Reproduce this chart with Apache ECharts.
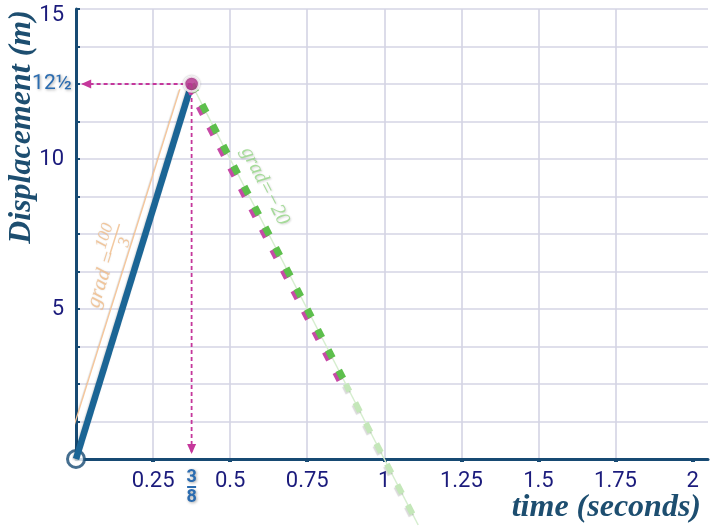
<!DOCTYPE html>
<html><head><meta charset="utf-8">
<script src="https://cdn.jsdelivr.net/npm/echarts@6/dist/echarts.min.js"></script>
<style>html,body{margin:0;padding:0;background:#fff}#c{width:720px;height:526px}</style>
</head><body><div id="c"></div>
<script>
// ---- data ----
const xLabelValues = [0.25, 0.375, 0.5, 0.75, 1, 1.25, 1.5, 1.75, 2];
const xTickValues = [0.25, 0.5, 0.75, 1, 1.25, 1.5, 1.75, 2];
const yLabelValues = [5, 10, 12.5, 15];
const origin = [[0, 0]];
const peak = [[0.375, 12.5]];
const riseLine = [[0, 0], [0.375, 12.5]];
const fallBold = [[0.375, 12.5], [0.875, 2.5]];
const fallFaint = [[0.875, 2.5], [1.11, -2.2]];
const fallFull = [[0.375, 12.5], [1.11, -2.2]];
const gradGuide = [[-0.026, 0.47], [0.337, 12.33]];
const hArrow = [[0.375, 12.5], [0.02, 12.5]];
const vArrow = [[0.375, 12.5], [0.375, 0.2]];
const riseLabelAt = [[0.1, 6.5]];
const fallLabelAt = [[0.613, 9.1]];

const navy = '#174a73';
const labelNavy = '#1b1b7c';
const magenta = '#c5379b';
const shadowTxt = {textShadowColor: 'rgba(0,0,0,0.35)', textShadowBlur: 3, textShadowOffsetX: 1, textShadowOffsetY: 1};
const orangeTxt = '#f0bb88';

const chart = echarts.init(document.getElementById('c'), null, {renderer: 'canvas'});
const noClip = {clip: false, silent: true, animation: false};

chart.setOption({
  animation: false,
  backgroundColor: '#fff',
  grid: {left: 76, right: 12, top: 9, bottom: 67, containLabel: false},
  xAxis: {
    type: 'value', min: 0, max: 2.05, interval: 0.125,
    axisLine: {show: true, onZero: false, lineStyle: {color: navy, width: 3}},
    axisTick: {show: true, customValues: xTickValues, length: 3, inside: false, lineStyle: {color: navy, width: 4}},
    axisLabel: {
      show: true, customValues: xLabelValues, margin: 11,
      color: labelNavy, fontFamily: 'Roboto', fontSize: 22,
      formatter: function (v) {
        if (Math.abs(v - 0.375) < 1e-9) return '{n|3}\n{bar|}\n{d|8}';
        return String(v);
      },
      rich: {
        n: Object.assign({fontFamily: 'Roboto', fontSize: 18, fontWeight: 'bold', color: '#2b6cb0', lineHeight: 15, align: 'center'}, shadowTxt),
        bar: {width: 9, height: 2, backgroundColor: '#2b6cb0', lineHeight: 4, align: 'center'},
        d: Object.assign({fontFamily: 'Roboto', fontSize: 18, fontWeight: 'bold', color: '#2b6cb0', lineHeight: 17, align: 'center'}, shadowTxt)
      }
    },
    splitLine: {show: true, showMaxLine: false, lineStyle: {color: '#d4d4e4', width: 1.6}}
  },
  yAxis: {
    type: 'value', min: 0, max: 15, interval: 1.25,
    axisLine: {show: true, onZero: false, lineStyle: {color: navy, width: 3}},
    axisTick: {show: true, length: 4, inside: true, lineStyle: {color: navy, width: 2}},
    axisLabel: {
      show: true, customValues: yLabelValues, margin: 4,
      color: labelNavy, fontFamily: 'Roboto', fontSize: 22,
      formatter: function (v) {
        if (Math.abs(v - 12.5) < 1e-9) return '{b|12½}';
        if (v === 15) return '{t|15}';
        return '{v|' + v + '}';
      },
      rich: {
        b: Object.assign({fontFamily: 'Roboto', fontSize: 21, color: '#2b6cb0'}, shadowTxt),
        t: {fontFamily: 'Roboto', fontSize: 22, color: labelNavy, padding: [12, 8, 0, 0]},
        v: {fontFamily: 'Roboto', fontSize: 22, color: labelNavy, padding: [0, 8, 0, 0]}
      }
    },
    splitLine: {show: true, lineStyle: {color: '#d4d4e4', width: 1.6}}
  },
  graphic: [
    {type: 'text', x: 22, y: 127, rotation: Math.PI / 2, z: 1,
     style: {text: 'Displacement (m)', font: 'italic bold 32px "Liberation Serif"', fill: '#1d4e70',
             textAlign: 'center', textVerticalAlign: 'middle',
             shadowColor: 'rgba(0,0,0,0.35)', shadowBlur: 3, shadowOffsetX: 2, shadowOffsetY: 2}},
    {type: 'text', x: 701, y: 508, z: 10,
     style: {text: 'time (seconds)', font: 'italic bold 32px "Liberation Serif"', fill: '#1d4e70',
             textAlign: 'right', textVerticalAlign: 'middle',
             shadowColor: 'rgba(0,0,0,0.35)', shadowBlur: 3, shadowOffsetX: 2, shadowOffsetY: 2}}
  ],
  series: [
    Object.assign({type: 'line', data: gradGuide, symbol: 'none', z: 2,
      lineStyle: {color: '#f6c598', width: 1.3, shadowColor: 'rgba(0,0,0,0.15)', shadowBlur: 1, shadowOffsetX: -1, shadowOffsetY: 1}}, noClip),
    Object.assign({type: 'scatter', data: origin, symbol: 'circle', symbolSize: 17, z: 3,
      itemStyle: {color: '#fff', borderColor: navy, borderWidth: 3}}, noClip),
    Object.assign({type: 'line', data: riseLine, symbol: 'none', z: 4,
      lineStyle: {color: '#1b6595', width: 6.5, cap: 'butt', shadowColor: 'rgba(0,0,0,0.18)', shadowBlur: 2, shadowOffsetX: -1, shadowOffsetY: 1}}, noClip),
    Object.assign({type: 'line', data: fallFull, symbol: 'none', z: 3,
      lineStyle: {color: '#d6eecf', width: 1.5}}, noClip),
    Object.assign({type: 'line', data: fallFaint, symbol: 'none', z: 4,
      lineStyle: {color: '#c4e7b9', width: 6, type: [10, 13], dashOffset: 2, cap: 'butt', shadowColor: 'rgba(0,0,0,0.15)', shadowBlur: 1, shadowOffsetX: -1, shadowOffsetY: 2}}, noClip),
    Object.assign({type: 'line', data: fallBold, symbol: 'none', z: 5,
      lineStyle: {color: '#5dbf4c', width: 7, type: [9, 14], cap: 'butt', shadowColor: '#c64aa6', shadowBlur: 0, shadowOffsetX: -3, shadowOffsetY: 2}}, noClip),
    Object.assign({type: 'line', data: hArrow, symbol: 'none', z: 6,
      lineStyle: {color: magenta, width: 1.8, type: [4, 3]}}, noClip),
    Object.assign({type: 'line', data: vArrow, symbol: 'none', z: 6,
      lineStyle: {color: magenta, width: 1.8, type: [4, 3]},
      markPoint: {silent: true, symbol: 'triangle', symbolSize: [9, 10], symbolRotate: 180,
        itemStyle: {color: magenta}, label: {show: false},
        data: [{coord: vArrow[1], symbolOffset: [0, -4]}]}}, noClip),
    Object.assign({type: 'line', data: [], symbol: 'none', z: 6,
      markPoint: {silent: true, symbol: 'triangle', symbolSize: [9, 10], symbolRotate: 90,
        itemStyle: {color: magenta}, label: {show: false},
        data: [{coord: hArrow[1], symbolOffset: [4, 0]}]}}, noClip),
    Object.assign({type: 'scatter', data: peak, symbol: 'circle', symbolSize: 15, z: 7,
      itemStyle: {color: '#c03a98', borderColor: '#fff', borderWidth: 2.5, shadowColor: 'rgba(0,0,0,0.3)', shadowBlur: 2}}, noClip),
    Object.assign({type: 'scatter', data: riseLabelAt, symbolSize: 1, z: 8,
      itemStyle: {color: 'rgba(0,0,0,0)'},
      label: {show: true, position: 'inside', rotate: 72.5,
        formatter: '{s|}{n|100}\n{a|grad =}{bar|}\n{s|}{d|3}',
        rich: {
          s: {width: 52, lineHeight: 15},
          n: {width: 32, align: 'center', fontFamily: 'Liberation Serif', fontStyle: 'italic', fontSize: 17, color: orangeTxt, lineHeight: 15,
              textShadowColor: 'rgba(0,0,0,0.15)', textShadowBlur: 2},
          a: {width: 52, fontFamily: 'Liberation Serif', fontStyle: 'italic', fontSize: 21, color: orangeTxt, lineHeight: 6,
              textShadowColor: 'rgba(0,0,0,0.15)', textShadowBlur: 2},
          bar: {width: 32, height: 1.5, backgroundColor: orangeTxt, lineHeight: 6},
          d: {width: 32, align: 'center', fontFamily: 'Liberation Serif', fontStyle: 'italic', fontSize: 17, color: orangeTxt, lineHeight: 15,
              textShadowColor: 'rgba(0,0,0,0.15)', textShadowBlur: 2}
        }}}, noClip),
    Object.assign({type: 'scatter', data: fallLabelAt, symbolSize: 1, z: 8,
      itemStyle: {color: 'rgba(0,0,0,0)'},
      label: {show: true, position: 'inside', rotate: -62.8,
        formatter: 'grad=−20',
        fontFamily: 'Liberation Serif', fontStyle: 'italic', fontSize: 20, color: '#92d483',
        textShadowColor: 'rgba(0,0,0,0.2)', textShadowBlur: 2, textShadowOffsetX: 1, textShadowOffsetY: 1}}, noClip)
  ]
});
</script>
</body></html>
